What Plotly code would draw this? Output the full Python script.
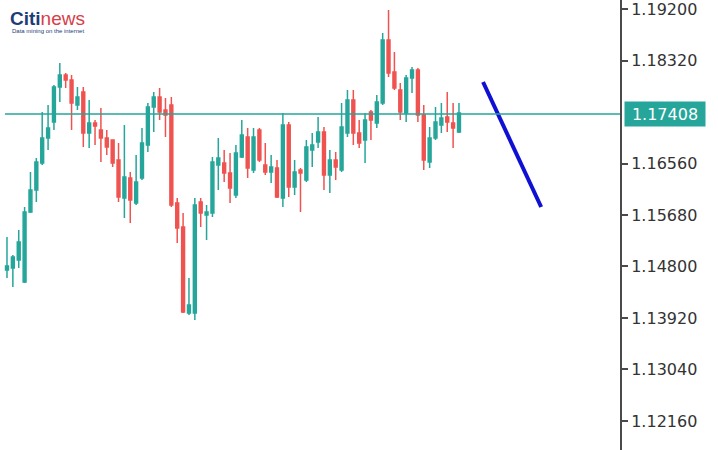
"""EUR/USD style candlestick snapshot with projection line."""

import plotly.graph_objects as go

# Candle colours (TradingView-like)
UP_GREEN = "#26a69a"
DOWN_RED = "#ef5350"
LEVEL_TEAL = "#26a69a"
ARROW_BLUE = "#1010d4"
AXIS_GRAY = "#4a4a4a"
LOGO_NAVY = "#1d3c78"
LOGO_RED = "#d6404a"

# OHLC values, oldest first
opens = [1.14740, 1.14774, 1.14911, 1.14535, 1.15731, 1.16107, 1.16569, 1.16996, 1.17269, 1.17867,
         1.18072, 1.17987, 1.17560, 1.17782, 1.17081, 1.17252, 1.17133, 1.16996, 1.16962, 1.16620,
         1.15971, 1.16312, 1.15885, 1.16312, 1.16876, 1.17526, 1.17696, 1.17474, 1.17560, 1.15885,
         1.15475, 1.14006, 1.14006, 1.15902, 1.15680, 1.15714, 1.16534, 1.16569, 1.16398, 1.16022,
         1.16671, 1.17013, 1.16449, 1.17133, 1.16534, 1.16415, 1.16483, 1.15971, 1.17218, 1.16159,
         1.16449, 1.16278, 1.16791, 1.16928, 1.17098, 1.16364, 1.16620, 1.16449, 1.17081, 1.17645,
         1.17081, 1.16962, 1.17440, 1.17252, 1.17594, 1.18670, 1.18124, 1.17816, 1.17423, 1.18021,
         1.18158, 1.17389, 1.16586, 1.16996, 1.17218, 1.17355, 1.17252, 1.17098]
highs = [1.15304, 1.14997, 1.15424, 1.15817, 1.16415, 1.16654, 1.17440, 1.17560, 1.17902, 1.18277,
         1.18107, 1.18072, 1.17867, 1.17867, 1.17645, 1.17303, 1.17508, 1.17133, 1.16962, 1.16910,
         1.17218, 1.16415, 1.16705, 1.17167, 1.17594, 1.17782, 1.17850, 1.17679, 1.17696, 1.15971,
         1.15714, 1.14604, 1.15971, 1.15971, 1.15851, 1.16671, 1.16996, 1.16791, 1.16740, 1.16876,
         1.17303, 1.17167, 1.17167, 1.17167, 1.16910, 1.16705, 1.16620, 1.17423, 1.17269, 1.16620,
         1.16483, 1.16962, 1.17081, 1.17355, 1.17184, 1.16791, 1.16757, 1.17594, 1.17816, 1.17816,
         1.17303, 1.17423, 1.17474, 1.17731, 1.18790, 1.19183, 1.18465, 1.17936, 1.18072, 1.18209,
         1.18192, 1.17560, 1.17184, 1.17526, 1.17594, 1.17782, 1.17594, 1.17594]
lows = [1.14604, 1.14450, 1.14774, 1.14518, 1.15714, 1.15902, 1.16534, 1.16791, 1.17133, 1.17611,
        1.17850, 1.17133, 1.17474, 1.16842, 1.16825, 1.16876, 1.16586, 1.16705, 1.16500, 1.15902,
        1.15629, 1.15543, 1.15851, 1.16278, 1.16757, 1.17098, 1.17303, 1.17013, 1.15817, 1.15202,
        1.14006, 1.13971, 1.13886, 1.15475, 1.15253, 1.15646, 1.16107, 1.16244, 1.15885, 1.15971,
        1.16654, 1.16312, 1.16398, 1.16586, 1.16364, 1.16227, 1.15971, 1.15817, 1.15988, 1.16022,
        1.15731, 1.16244, 1.16500, 1.16825, 1.16107, 1.16056, 1.16278, 1.16415, 1.17013, 1.16876,
        1.16825, 1.16569, 1.16962, 1.17167, 1.17560, 1.18038, 1.17816, 1.17303, 1.17269, 1.17765,
        1.17269, 1.16449, 1.16483, 1.16962, 1.17081, 1.17098, 1.16825, 1.17081]
closes = [1.14809, 1.14962, 1.15219, 1.15731, 1.16107, 1.16586, 1.16996, 1.17167, 1.17867, 1.18072,
          1.17987, 1.17594, 1.17696, 1.17081, 1.17252, 1.17201, 1.16996, 1.16842, 1.16569, 1.15988,
          1.16329, 1.15936, 1.16244, 1.16910, 1.17526, 1.17696, 1.17440, 1.17389, 1.15851, 1.15458,
          1.14023, 1.14142, 1.15851, 1.15714, 1.15731, 1.16586, 1.16654, 1.16398, 1.16141, 1.16740,
          1.17047, 1.16483, 1.17013, 1.16620, 1.16415, 1.16500, 1.15988, 1.17218, 1.16159, 1.16415,
          1.16398, 1.16842, 1.16876, 1.17098, 1.16364, 1.16620, 1.16500, 1.17184, 1.17645, 1.17081,
          1.16910, 1.17303, 1.17303, 1.17611, 1.18670, 1.18107, 1.17850, 1.17440, 1.18021, 1.18158,
          1.17389, 1.16620, 1.16996, 1.17269, 1.17338, 1.17269, 1.17167, 1.17423]
bars = list(range(len(opens)))

# Current price level and the drawn projection
last_level = 1.17408
proj_x = [81.1, 91.0]
proj_y = [1.17953, 1.15817]

# Price scale
tick_vals = [1.19200, 1.18320, 1.16560, 1.15680, 1.14800, 1.13920, 1.13040, 1.12160]
tick_text = [f"{v:.5f}" for v in tick_vals]

fig = go.Figure()

fig.add_trace(
    go.Candlestick(
        x=bars, open=opens, high=highs, low=lows, close=closes,
        increasing=dict(line=dict(color=UP_GREEN, width=1.5), fillcolor=UP_GREEN),
        decreasing=dict(line=dict(color=DOWN_RED, width=1.5), fillcolor=DOWN_RED),
        whiskerwidth=0,
        showlegend=False,
        hoverinfo="skip",
    )
)

# Projection stroke
fig.add_trace(
    go.Scatter(
        x=proj_x, y=proj_y, mode="lines",
        line=dict(color=ARROW_BLUE, width=4),
        showlegend=False, hoverinfo="skip",
    )
)

# Horizontal level line
fig.add_shape(
    type="line", xref="x domain", yref="y",
    x0=0.008, x1=1, y0=last_level, y1=last_level,
    line=dict(color=LEVEL_TEAL, width=1.5),
)

# Price label on the scale
fig.add_annotation(
    xref="paper", yref="y", x=1 + 4 / 620, y=last_level,
    xanchor="left", yanchor="middle",
    text=f"{last_level:.5f}", showarrow=False,
    font=dict(family="DejaVu Sans", size=16, color="white"),
    bgcolor=LEVEL_TEAL, width=76, height=20, borderpad=2, align="center",
)

# Logo
fig.add_annotation(
    xref="paper", yref="paper", x=8 / 620, y=1 - 6 / 450,
    xanchor="left", yanchor="top", showarrow=False,
    text=(f"<span style='color:{LOGO_NAVY}'><b>Citi</b></span>"
          f"<span style='color:{LOGO_RED}'>news</span>"),
    font=dict(family="Liberation Sans", size=19),
)
fig.add_annotation(
    xref="paper", yref="paper", x=10 / 620, y=1 - 26 / 450,
    xanchor="left", yanchor="top", showarrow=False,
    text="Data mining on the internet",
    font=dict(family="Liberation Sans", size=6, color=LOGO_NAVY),
)

fig.update_layout(
    width=718, height=450,
    margin=dict(l=0, r=98, t=0, b=0),
    plot_bgcolor="white", paper_bgcolor="white",
    xaxis=dict(range=[-1.19, 104.43], visible=False, rangeslider=dict(visible=False),
               fixedrange=True),
    yaxis=dict(
        range=[1.11664, 1.19354], side="right", showgrid=False, zeroline=False,
        tickvals=tick_vals, ticktext=tick_text,
        ticks="outside", ticklen=6, tickwidth=1.5, tickcolor=AXIS_GRAY,
        showline=True, linecolor=AXIS_GRAY, linewidth=2,
        tickfont=dict(family="DejaVu Sans", size=16, color="#333333"),
        ticklabeloverflow="allow",
        automargin=False,
    ),
)

# drop the default page margin so the chart sits at the window origin
fig.write_html(
    "out.html",
    config={"displayModeBar": False},
    post_script="document.body.style.margin='0';document.body.style.overflow='hidden';",
)
